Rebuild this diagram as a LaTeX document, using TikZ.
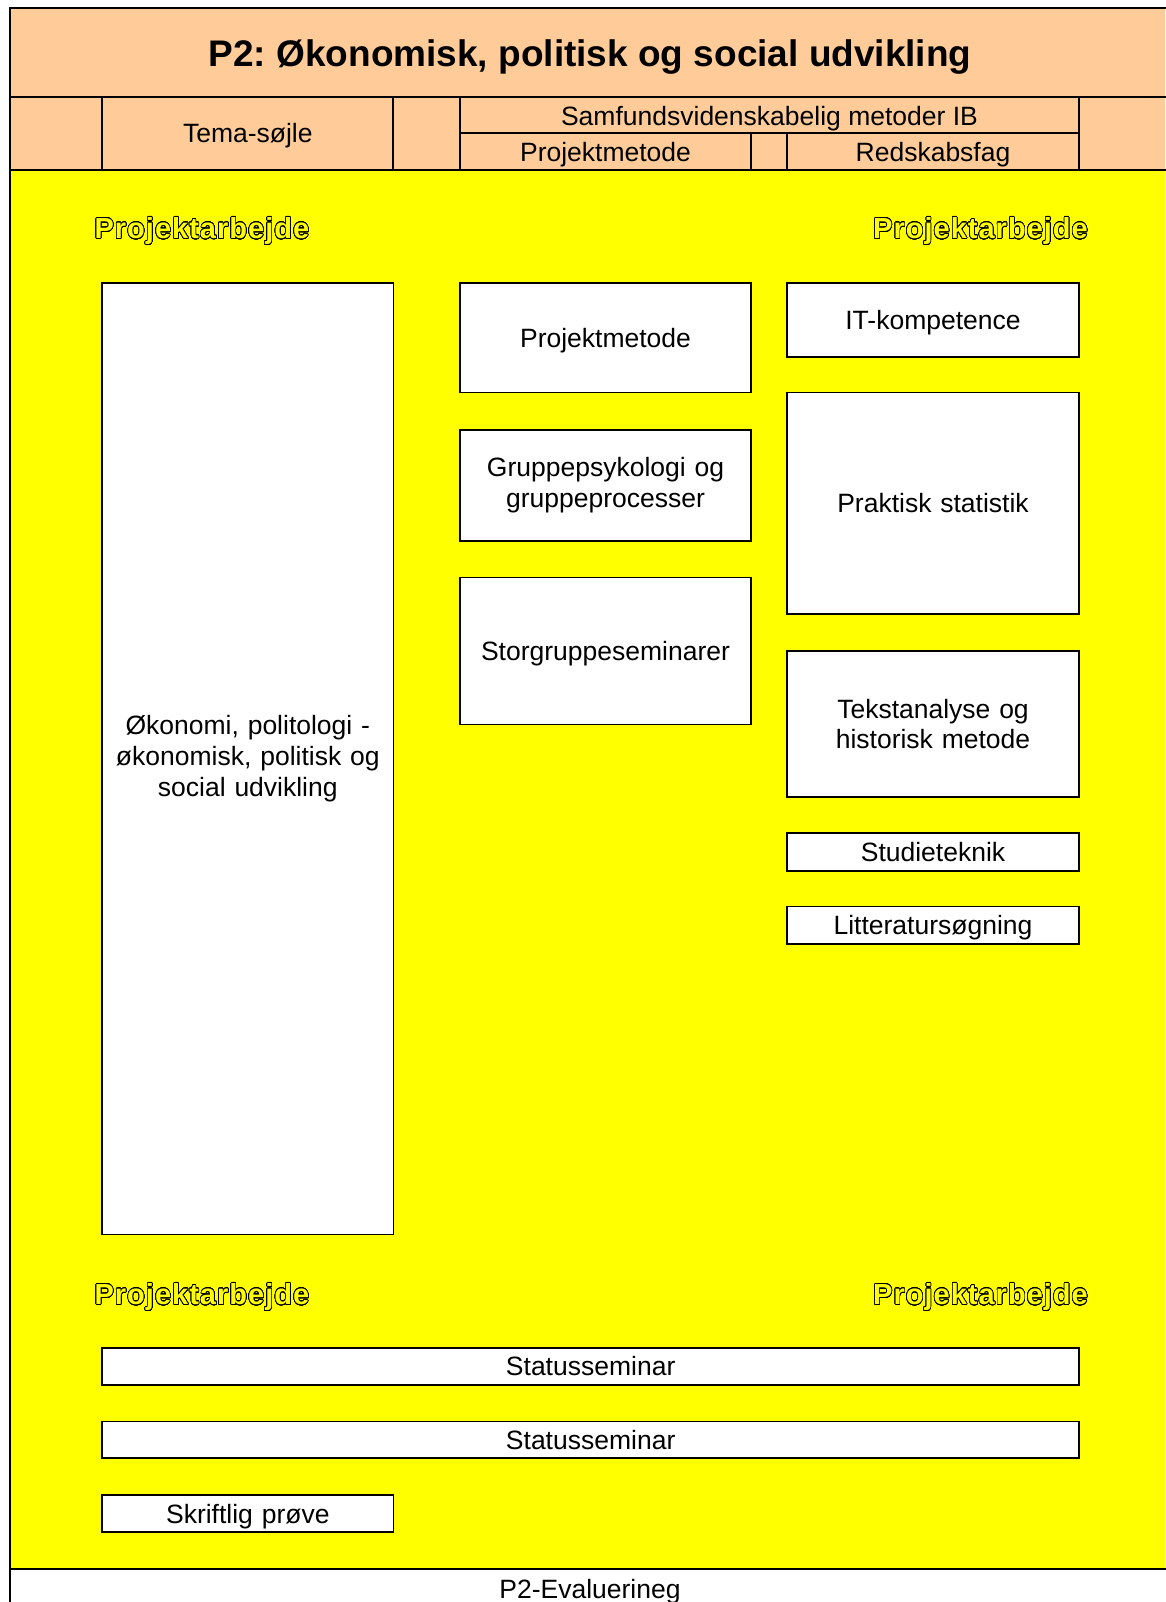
\documentclass[tikz,border=0pt]{standalone}
\usepackage{fontspec}
\setmainfont{Liberation Sans}
\newfontfamily\pafont[LetterSpace=3.5]{Liberation Sans}
\usepackage{contour}
\contourlength{0.7pt}
\contournumber{32}
\definecolor{peach}{HTML}{FFCC99}
\definecolor{yel}{HTML}{FFFF00}
\frenchspacing
\begin{document}
\begin{tikzpicture}[x=1pt,y=-1pt,
  lw/.style={line width=2pt, line cap=rect},
  mbox/.style={draw=black, line width=1.8pt, fill=white, align=center,
    font=\fontsize{26.5}{30.7}\selectfont, inner sep=0pt, text width=280pt},
  box/.style={mbox, text depth=0pt},
  hdr/.style={font=\fontsize{26.5}{30.7}\selectfont, inner sep=0pt, text depth=0pt},
  pa/.style={font=\pafont\bfseries\fontsize{29}{32}\selectfont, inner sep=0pt, text depth=0pt},
]
\useasboundingbox (0,0) rectangle (1165,1602);
\fill[white] (0,0) rectangle (1165,1602);
\fill[peach] (10.2,8.2) rectangle (1165,169.6);
\fill[yel] (10.2,169.6) rectangle (1165,1568.6);
% frame and header lines
\draw[lw] (10.2,8.2) -- (1165,8.2);
\draw[lw] (10.2,8.2) -- (10.2,1602);
\draw[lw] (10.2,97.1) -- (1165,97.1);
\draw[lw] (10.2,169.6) -- (1165,169.6);
\draw[lw] (10.2,1568.6) -- (1165,1568.6);
\draw[lw] (102.2,97.1) -- (102.2,169.6);
\draw[lw] (393.4,97.1) -- (393.4,169.6);
\draw[lw] (459.9,97.1) -- (459.9,169.6);
\draw[lw] (1079.1,97.1) -- (1079.1,169.6);
\draw[lw] (459.9,132.8) -- (1079.1,132.8);
\draw[lw] (751.1,132.8) -- (751.1,169.6);
\draw[lw] (786.9,132.8) -- (786.9,169.6);
% titles
\node[font=\bfseries\fontsize{37}{40}\selectfont, inner sep=0pt, text depth=0pt] (title) at (590,53) {P2: Økonomisk, politisk og social udvikling};
\node[hdr] (tema) at (247.8,133) {Tema-søjle};
\node[hdr] (samf) at (769.5,115.5) {Samfundsvidenskabelig metoder IB};
\node[hdr] (pmh) at (605.5,152) {Projektmetode};
\node[hdr] (red) at (933,152) {Redskabsfag};
% Projektarbejde labels
\node[pa] (pa1) at (201.9,228) {\contour{black}{\textcolor{yel}{Projektarbejde}}};
\node[pa] (pa2) at (980.5,228) {\contour{black}{\textcolor{yel}{Projektarbejde}}};
\node[pa] (pa3) at (201.9,1294) {\contour{black}{\textcolor{yel}{Projektarbejde}}};
\node[pa] (pa4) at (980.5,1294) {\contour{black}{\textcolor{yel}{Projektarbejde}}};
% boxes
\node[mbox, minimum width=291.2pt, minimum height=951.4pt] (big) at (247.8,758.8) {Økonomi, politologi -\\økonomisk, politisk og\\social udvikling};
\node[box, minimum width=291.2pt, minimum height=109.3pt] (pm) at (605.5,337.75) {Projektmetode};
\node[mbox, minimum width=291.2pt, minimum height=110.4pt] (grp) at (605.5,485.4) {Gruppepsykologi og\\gruppeprocesser};
\node[box, minimum width=291.2pt, minimum height=147.1pt] (stor) at (605.5,650.95) {Storgruppeseminarer};
\node[box, minimum width=292.2pt, minimum height=73.5pt] (it) at (933,319.85) {IT-kompetence};
\node[box, minimum width=292.2pt, minimum height=221.8pt] (prak) at (933,503.3) {Praktisk statistik};
\node[mbox, minimum width=292.2pt, minimum height=146.1pt] (tekst) at (933,724.05) {Tekstanalyse og\\historisk metode};
\node[box, minimum width=292.2pt, minimum height=37.9pt] (stud) at (933,851.75) {Studieteknik};
\node[box, minimum width=292.2pt, minimum height=37.8pt] (litt) at (933,925.3) {Litteratursøgning};
\node[box, minimum width=976.9pt, minimum height=36.8pt] (stat1) at (590.65,1366.3) {Statusseminar};
\node[box, minimum width=976.9pt, minimum height=36.8pt] (stat2) at (590.65,1439.9) {Statusseminar};
\node[box, minimum width=291.2pt, minimum height=36.8pt] (skr) at (247.8,1513.5) {Skriftlig prøve};
% footer
\node[hdr] (eval) at (590,1589) {P2-Evaluerineg};
\end{tikzpicture}
\end{document}
